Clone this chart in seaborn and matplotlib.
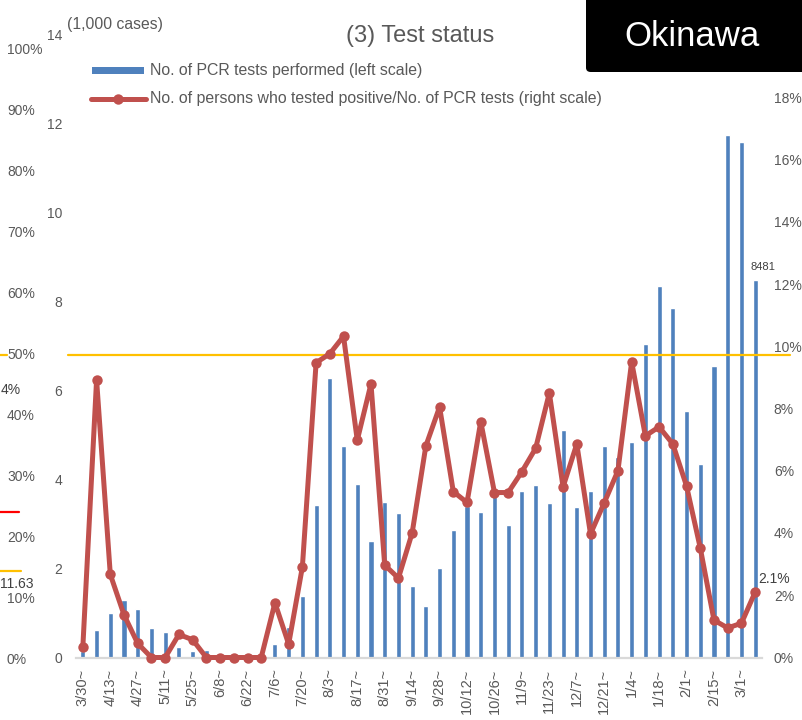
import numpy as np
import pandas as pd
import matplotlib
matplotlib.use("Agg")
import matplotlib.pyplot as plt
from matplotlib.lines import Line2D
from matplotlib.patches import Rectangle, FancyBboxPatch
import seaborn as sns

# Weekly PCR tests (thousands) and positivity rate (%), weeks starting 3/30
week_start = pd.date_range("2020-03-30", periods=50, freq="7D")
week_labels = [f"{d.month}/{d.day}~" for d in week_start]

tests_thousands = [0.15, 0.61, 1.01, 1.29, 1.08, 0.67, 0.58, 0.24, 0.15, 0.17,
                   0.11, 0.11, 0.05, 0.04, 0.31, 0.69, 1.39, 3.42, 6.28, 4.75,
                   3.90, 2.63, 3.49, 3.24, 1.61, 1.16, 2.01, 2.87, 3.41, 3.27,
                   3.64, 2.97, 3.74, 3.87, 3.47, 5.11, 3.38, 3.75, 4.75, 4.50,
                   4.85, 7.05, 8.35, 7.87, 5.55, 4.35, 6.55, 11.74, 11.60, 8.481]

positive_rate = [0.35, 8.92, 2.67, 1.37, 0.45, 0.0, 0.0, 0.74, 0.57, 0.0,
                 0.0, 0.0, 0.0, 0.0, 1.76, 0.43, 2.91, 9.47, 9.76, 10.32,
                 6.98, 8.79, 2.97, 2.55, 4.00, 6.80, 8.05, 5.33, 4.98, 7.58,
                 5.30, 5.30, 5.97, 6.72, 8.50, 5.48, 6.86, 3.97, 4.97, 6.00,
                 9.50, 7.12, 7.41, 6.86, 5.51, 3.52, 1.20, 0.95, 1.10, 2.10]

left_ticks = [0, 2, 4, 6, 8, 10, 12, 14]
right_ticks = [0, 2, 4, 6, 8, 10, 12, 14, 16, 18]
outer_ticks = [0, 10, 20, 30, 40, 50, 60, 70, 80, 90, 100]

sns.set_style("white")
plt.rcParams["font.family"] = ["Liberation Sans", "DejaVu Sans"]

GRAY = "#595959"
BLUE = "#4F81BD"
RED = "#C0504D"
YELLOW = "#FFC000"

W, H = 802, 720
fig = plt.figure(figsize=(W / 100, H / 100), dpi=100)


def fx(px):
    return px / W


def fy(py):
    return 1 - py / H


ax = fig.add_axes([fx(76), fy(657.5), fx(762) - fx(76), fy(35) - fy(657.5)])

df = pd.DataFrame({"week": week_labels, "tests": tests_thousands})
sns.barplot(data=df, x="week", y="tests", ax=ax, color=BLUE, saturation=1,
            width=0.37, order=week_labels)
ax.set_ylim(0, 14)
ax.set_xlim(-0.5, len(week_labels) - 0.5)
ax.set_yticks(left_ticks)
ax.set_yticklabels([str(t) for t in left_ticks])
ax.set_xticks(range(0, len(week_labels), 2))
ax.set_xticklabels(week_labels[::2], rotation=90, ha="center", va="top")
ax.tick_params(axis="x", length=0, pad=8, labelsize=10.5, labelcolor=GRAY)
ax.tick_params(axis="y", length=0, pad=10, labelsize=10, labelcolor=GRAY)
ax.set_xlabel("")
ax.set_ylabel("")
for s in ["top", "left", "right"]:
    ax.spines[s].set_visible(False)
ax.spines["bottom"].set_color("#D9D9D9")
ax.spines["bottom"].set_linewidth(1.6)

# label on the latest week's bar
last = len(tests_thousands) - 1
ax.text(last + 0.55, tests_thousands[last] + 0.2, f"{round(tests_thousands[last] * 1000)}",
        ha="center", va="bottom", fontsize=8, color="#404040")

# 50% reference line of the neighbouring panel
ax.add_line(Line2D([fx(68), fx(790)], [fy(355), fy(355)], transform=fig.transFigure,
                   color=YELLOW, lw=1.6, clip_on=False, zorder=5))

ax2 = ax.twinx()
sns.lineplot(x=np.arange(len(positive_rate)), y=positive_rate, ax=ax2, color=RED,
             lw=3.6, marker="o", markersize=7.5, markeredgewidth=0, clip_on=False)
ax2.set_ylim(0, 20)
ax2.set_yticks(right_ticks)
ax2.set_yticklabels([f"{t}%" for t in right_ticks])
ax2.tick_params(axis="y", length=0, pad=8.5, labelsize=10, labelcolor=GRAY)
ax2.set_xlim(-0.5, len(week_labels) - 0.5)
ax2.set_ylabel("")
for s in ["top", "left", "right", "bottom"]:
    ax2.spines[s].set_visible(False)
ax2.text(last + 0.2, positive_rate[last] + 0.2, f"{positive_rate[last]}%",
         ha="left", va="bottom", fontsize=10, color="#404040")

# unit and title
fig.text(fx(67), fy(24), "(1,000 cases)", ha="left", va="center", fontsize=11.3, color=GRAY)
fig.text(fx(420), fy(36), "(3) Test status", ha="center", va="center", fontsize=17, color=GRAY)

# legend
fig.add_artist(Rectangle((fx(92), fy(74)), fx(144) - fx(92), fy(67) - fy(74),
                         transform=fig.transFigure, color=BLUE, lw=0))
fig.text(fx(150), fy(71), "No. of PCR tests performed (left scale)", ha="left",
         va="center", fontsize=11.4, color=GRAY)
fig.add_artist(Line2D([fx(91), fx(146)], [fy(99), fy(99)], transform=fig.transFigure,
                      color=RED, lw=3.6, solid_capstyle="round"))
fig.add_artist(Line2D([fx(118)], [fy(99)], transform=fig.transFigure, color=RED,
                      marker="o", markersize=7.5, markeredgewidth=0, lw=0))
fig.text(fx(150), fy(99),
         "No. of persons who tested positive/No. of PCR tests (right scale)",
         ha="left", va="center", fontsize=11.4, color=GRAY)

# prefecture badge
fig.add_artist(FancyBboxPatch((fx(586), fy(72)), fx(812) - fx(586), fy(-10) - fy(72),
                              boxstyle="round,pad=0,rounding_size=0.006",
                              transform=fig.transFigure, color="black", lw=0, zorder=10))
fig.text(fx(692), fy(37), "Okinawa", ha="center", va="center", fontsize=25,
         color="white", zorder=11)

# edge of the neighbouring panel's axis
for t in outer_ticks:
    fig.text(fx(7), fy(660 - 6.1 * t), f"{t}%", ha="left", va="center",
             fontsize=10, color=GRAY)
fig.add_artist(Line2D([0, fx(7)], [fy(355), fy(355)], transform=fig.transFigure,
                      color=YELLOW, lw=1.6))
fig.add_artist(Line2D([0, fx(19)], [fy(512), fy(512)], transform=fig.transFigure,
                      color="#FF0000", lw=1.6))
fig.add_artist(Line2D([0, fx(21)], [fy(571), fy(571)], transform=fig.transFigure,
                      color=YELLOW, lw=1.6))
fig.text(fx(1), fy(390), "4%", ha="left", va="center", fontsize=10, color="#404040")
fig.text(fx(0), fy(584), "11.63", ha="left", va="center", fontsize=10, color="#404040")

fig.savefig("out.png", dpi=100)
